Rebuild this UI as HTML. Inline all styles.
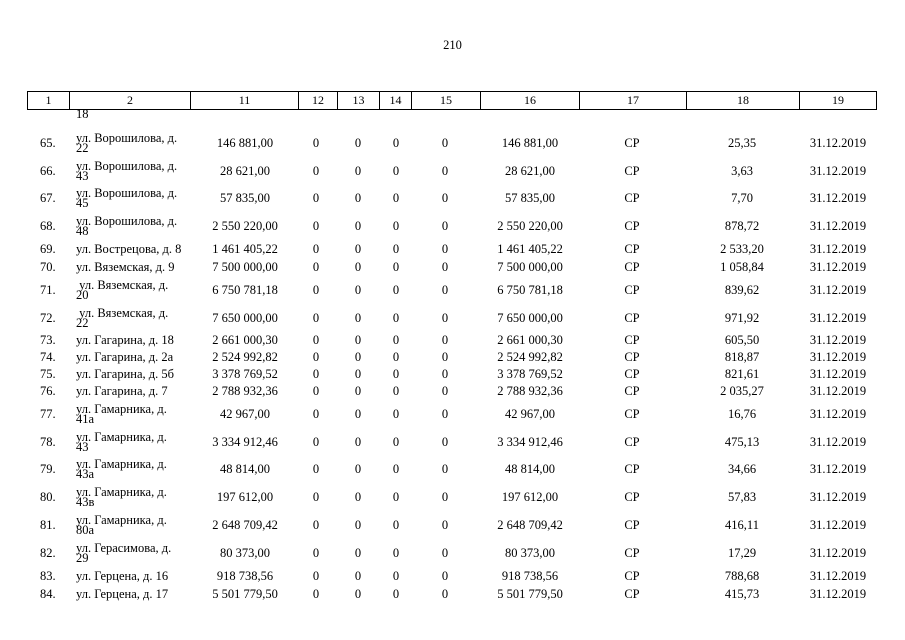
<!DOCTYPE html>
<html><head><meta charset="utf-8"><style>
body{margin:0;background:#fff;}
#p{position:relative;width:905px;height:640px;overflow:hidden;font-family:"Liberation Serif",serif;font-size:12.5px;color:#000;}
.r{position:absolute;left:0;width:905px;height:14px;line-height:14px;}
.r span{position:absolute;white-space:nowrap;}
.n{left:40px;}
.a{left:76px;}
.a2{left:76px;top:-3px;line-height:10px;}
.c{width:120px;text-align:center;}
.k11{left:185px}.k12{left:256px}.k13{left:298px}.k14{left:336px}.k15{left:385px}.k16{left:470px}.k17{left:572px}.k18{left:682px}.k19{left:778px}
table{position:absolute;left:27px;top:91px;border-collapse:collapse;}
td{border:1px solid #000;height:17px;padding:0;text-align:center;font-size:12px;line-height:17px;}
</style></head><body><div id="p">
<div style="position:absolute;left:0;width:905px;top:38px;text-align:center;font-size:12.5px;">210</div>
<table><tr>
<td style="width:41px">1</td><td style="width:120px">2</td><td style="width:107px">11</td><td style="width:38px">12</td><td style="width:41px">13</td><td style="width:31px">14</td><td style="width:68px">15</td><td style="width:98px">16</td><td style="width:106px">17</td><td style="width:112px">18</td><td style="width:76px">19</td>
</tr></table>
<div style="position:absolute;left:76px;top:109px;line-height:10px;">18</div>

<div class="r" style="top:136px"><span class="n">65.</span><span class="a2">ул. Ворошилова, д.<br>22</span><span class="c k11">146 881,00</span><span class="c k12">0</span><span class="c k13">0</span><span class="c k14">0</span><span class="c k15">0</span><span class="c k16">146 881,00</span><span class="c k17">СР</span><span class="c k18">25,35</span><span class="c k19">31.12.2019</span></div>
<div class="r" style="top:164px"><span class="n">66.</span><span class="a2">ул. Ворошилова, д.<br>43</span><span class="c k11">28 621,00</span><span class="c k12">0</span><span class="c k13">0</span><span class="c k14">0</span><span class="c k15">0</span><span class="c k16">28 621,00</span><span class="c k17">СР</span><span class="c k18">3,63</span><span class="c k19">31.12.2019</span></div>
<div class="r" style="top:191px"><span class="n">67.</span><span class="a2">ул. Ворошилова, д.<br>45</span><span class="c k11">57 835,00</span><span class="c k12">0</span><span class="c k13">0</span><span class="c k14">0</span><span class="c k15">0</span><span class="c k16">57 835,00</span><span class="c k17">СР</span><span class="c k18">7,70</span><span class="c k19">31.12.2019</span></div>
<div class="r" style="top:219px"><span class="n">68.</span><span class="a2">ул. Ворошилова, д.<br>48</span><span class="c k11">2 550 220,00</span><span class="c k12">0</span><span class="c k13">0</span><span class="c k14">0</span><span class="c k15">0</span><span class="c k16">2 550 220,00</span><span class="c k17">СР</span><span class="c k18">878,72</span><span class="c k19">31.12.2019</span></div>
<div class="r" style="top:242px"><span class="n">69.</span><span class="a">ул. Вострецова, д. 8</span><span class="c k11">1 461 405,22</span><span class="c k12">0</span><span class="c k13">0</span><span class="c k14">0</span><span class="c k15">0</span><span class="c k16">1 461 405,22</span><span class="c k17">СР</span><span class="c k18">2 533,20</span><span class="c k19">31.12.2019</span></div>
<div class="r" style="top:260px"><span class="n">70.</span><span class="a">ул. Вяземская, д. 9</span><span class="c k11">7 500 000,00</span><span class="c k12">0</span><span class="c k13">0</span><span class="c k14">0</span><span class="c k15">0</span><span class="c k16">7 500 000,00</span><span class="c k17">СР</span><span class="c k18">1 058,84</span><span class="c k19">31.12.2019</span></div>
<div class="r" style="top:283px"><span class="n">71.</span><span class="a2">&nbsp;ул. Вяземская, д.<br>20</span><span class="c k11">6 750 781,18</span><span class="c k12">0</span><span class="c k13">0</span><span class="c k14">0</span><span class="c k15">0</span><span class="c k16">6 750 781,18</span><span class="c k17">СР</span><span class="c k18">839,62</span><span class="c k19">31.12.2019</span></div>
<div class="r" style="top:311px"><span class="n">72.</span><span class="a2">&nbsp;ул. Вяземская, д.<br>22</span><span class="c k11">7 650 000,00</span><span class="c k12">0</span><span class="c k13">0</span><span class="c k14">0</span><span class="c k15">0</span><span class="c k16">7 650 000,00</span><span class="c k17">СР</span><span class="c k18">971,92</span><span class="c k19">31.12.2019</span></div>
<div class="r" style="top:333px"><span class="n">73.</span><span class="a">ул. Гагарина, д. 18</span><span class="c k11">2 661 000,30</span><span class="c k12">0</span><span class="c k13">0</span><span class="c k14">0</span><span class="c k15">0</span><span class="c k16">2 661 000,30</span><span class="c k17">СР</span><span class="c k18">605,50</span><span class="c k19">31.12.2019</span></div>
<div class="r" style="top:350px"><span class="n">74.</span><span class="a">ул. Гагарина, д. 2а</span><span class="c k11">2 524 992,82</span><span class="c k12">0</span><span class="c k13">0</span><span class="c k14">0</span><span class="c k15">0</span><span class="c k16">2 524 992,82</span><span class="c k17">СР</span><span class="c k18">818,87</span><span class="c k19">31.12.2019</span></div>
<div class="r" style="top:367px"><span class="n">75.</span><span class="a">ул. Гагарина, д. 5б</span><span class="c k11">3 378 769,52</span><span class="c k12">0</span><span class="c k13">0</span><span class="c k14">0</span><span class="c k15">0</span><span class="c k16">3 378 769,52</span><span class="c k17">СР</span><span class="c k18">821,61</span><span class="c k19">31.12.2019</span></div>
<div class="r" style="top:384px"><span class="n">76.</span><span class="a">ул. Гагарина, д. 7</span><span class="c k11">2 788 932,36</span><span class="c k12">0</span><span class="c k13">0</span><span class="c k14">0</span><span class="c k15">0</span><span class="c k16">2 788 932,36</span><span class="c k17">СР</span><span class="c k18">2 035,27</span><span class="c k19">31.12.2019</span></div>
<div class="r" style="top:407px"><span class="n">77.</span><span class="a2">ул. Гамарника, д.<br>41а</span><span class="c k11">42 967,00</span><span class="c k12">0</span><span class="c k13">0</span><span class="c k14">0</span><span class="c k15">0</span><span class="c k16">42 967,00</span><span class="c k17">СР</span><span class="c k18">16,76</span><span class="c k19">31.12.2019</span></div>
<div class="r" style="top:435px"><span class="n">78.</span><span class="a2">ул. Гамарника, д.<br>43</span><span class="c k11">3 334 912,46</span><span class="c k12">0</span><span class="c k13">0</span><span class="c k14">0</span><span class="c k15">0</span><span class="c k16">3 334 912,46</span><span class="c k17">СР</span><span class="c k18">475,13</span><span class="c k19">31.12.2019</span></div>
<div class="r" style="top:462px"><span class="n">79.</span><span class="a2">ул. Гамарника, д.<br>43а</span><span class="c k11">48 814,00</span><span class="c k12">0</span><span class="c k13">0</span><span class="c k14">0</span><span class="c k15">0</span><span class="c k16">48 814,00</span><span class="c k17">СР</span><span class="c k18">34,66</span><span class="c k19">31.12.2019</span></div>
<div class="r" style="top:490px"><span class="n">80.</span><span class="a2">ул. Гамарника, д.<br>43в</span><span class="c k11">197 612,00</span><span class="c k12">0</span><span class="c k13">0</span><span class="c k14">0</span><span class="c k15">0</span><span class="c k16">197 612,00</span><span class="c k17">СР</span><span class="c k18">57,83</span><span class="c k19">31.12.2019</span></div>
<div class="r" style="top:518px"><span class="n">81.</span><span class="a2">ул. Гамарника, д.<br>80а</span><span class="c k11">2 648 709,42</span><span class="c k12">0</span><span class="c k13">0</span><span class="c k14">0</span><span class="c k15">0</span><span class="c k16">2 648 709,42</span><span class="c k17">СР</span><span class="c k18">416,11</span><span class="c k19">31.12.2019</span></div>
<div class="r" style="top:546px"><span class="n">82.</span><span class="a2">ул. Герасимова, д.<br>29</span><span class="c k11">80 373,00</span><span class="c k12">0</span><span class="c k13">0</span><span class="c k14">0</span><span class="c k15">0</span><span class="c k16">80 373,00</span><span class="c k17">СР</span><span class="c k18">17,29</span><span class="c k19">31.12.2019</span></div>
<div class="r" style="top:569px"><span class="n">83.</span><span class="a">ул. Герцена, д. 16</span><span class="c k11">918 738,56</span><span class="c k12">0</span><span class="c k13">0</span><span class="c k14">0</span><span class="c k15">0</span><span class="c k16">918 738,56</span><span class="c k17">СР</span><span class="c k18">788,68</span><span class="c k19">31.12.2019</span></div>
<div class="r" style="top:587px"><span class="n">84.</span><span class="a">ул. Герцена, д. 17</span><span class="c k11">5 501 779,50</span><span class="c k12">0</span><span class="c k13">0</span><span class="c k14">0</span><span class="c k15">0</span><span class="c k16">5 501 779,50</span><span class="c k17">СР</span><span class="c k18">415,73</span><span class="c k19">31.12.2019</span></div>
</div></body></html>
